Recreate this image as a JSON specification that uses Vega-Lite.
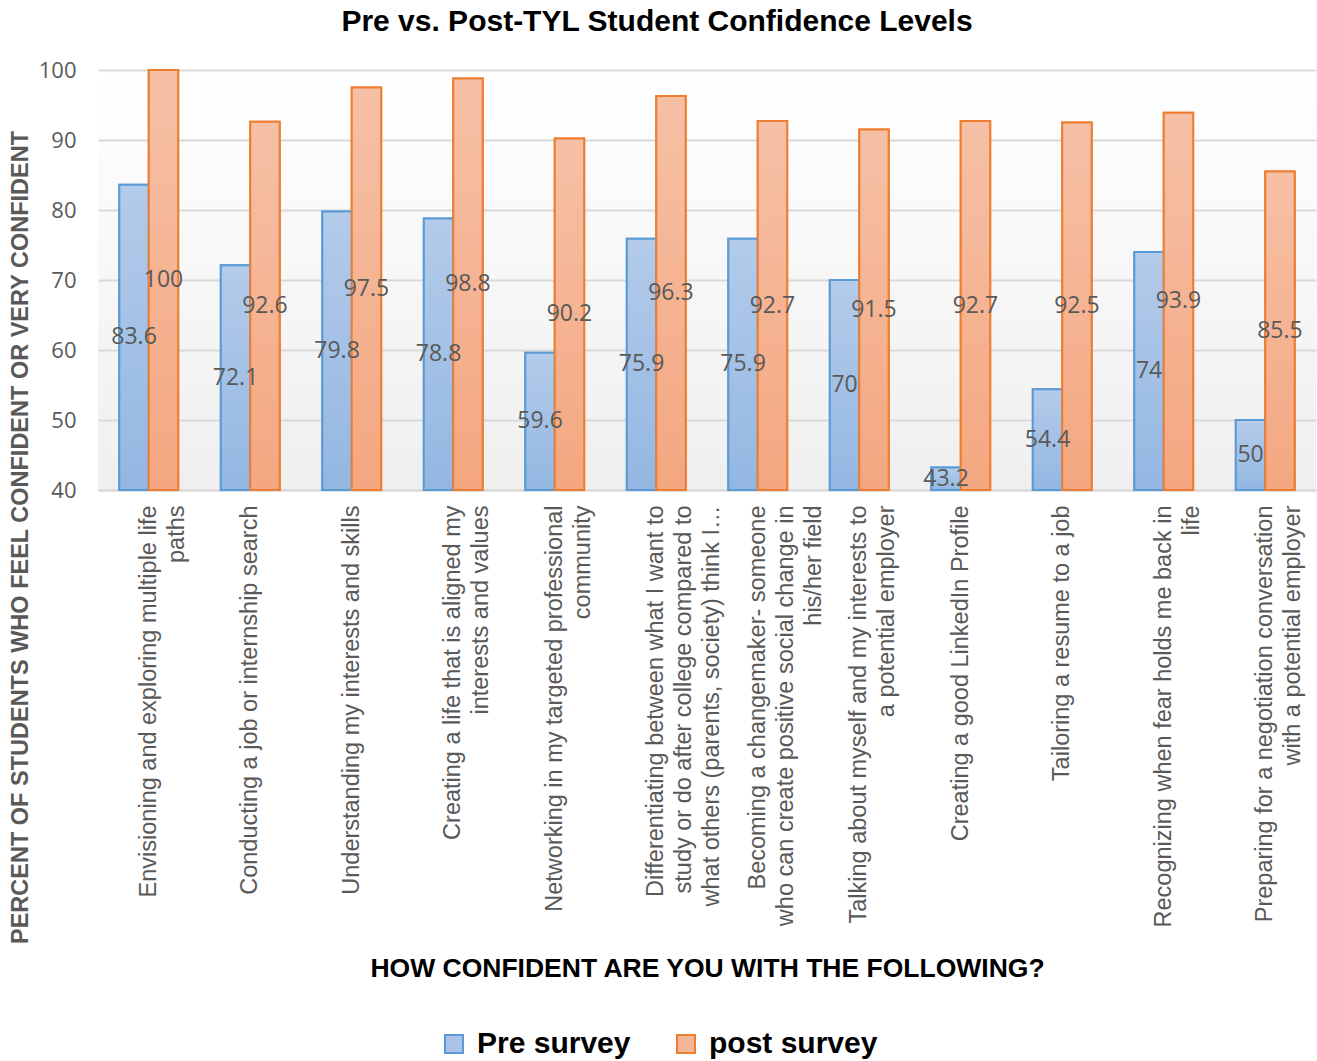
{
  "$schema": "https://vega.github.io/schema/vega-lite/v6.json",
  "width": 1218,
  "height": 420,
  "autosize": {"type": "none"},
  "padding": {"left": 98, "top": 70, "right": 1, "bottom": 571},
  "background": "#ffffff",
  "title": {
    "text": "Pre vs. Post-TYL Student Confidence Levels",
    "font": "Liberation Sans",
    "fontSize": 30,
    "fontWeight": "bold",
    "color": "#000000",
    "anchor": "middle",
    "frame": "group",
    "dx": -50,
    "offset": 22
  },
  "config": {
    "view": {
      "stroke": null,
      "fill": {
        "gradient": "linear",
        "x1": 0, "y1": 0, "x2": 0, "y2": 1,
        "stops": [
          {"offset": 0, "color": "#ffffff"},
          {"offset": 1, "color": "#efefef"}
        ]
      }
    }
  },
  "data": {
    "values": [
      {"skill": "Envisioning and exploring multiple life|paths", "series": "Pre survey", "value": 83.6},
      {"skill": "Envisioning and exploring multiple life|paths", "series": "post survey", "value": 100},
      {"skill": "Conducting a job or internship search", "series": "Pre survey", "value": 72.1},
      {"skill": "Conducting a job or internship search", "series": "post survey", "value": 92.6},
      {"skill": "Understanding my interests and skills", "series": "Pre survey", "value": 79.8},
      {"skill": "Understanding my interests and skills", "series": "post survey", "value": 97.5},
      {"skill": "Creating a life that is aligned my|interests and values", "series": "Pre survey", "value": 78.8},
      {"skill": "Creating a life that is aligned my|interests and values", "series": "post survey", "value": 98.8},
      {"skill": "Networking in my targeted professional|community", "series": "Pre survey", "value": 59.6},
      {"skill": "Networking in my targeted professional|community", "series": "post survey", "value": 90.2},
      {"skill": "Differentiating between what I want to|study or do after college compared to|what others (parents, society) think I…", "series": "Pre survey", "value": 75.9},
      {"skill": "Differentiating between what I want to|study or do after college compared to|what others (parents, society) think I…", "series": "post survey", "value": 96.3},
      {"skill": "Becoming a changemaker- someone|who can create positive social change in|his/her field", "series": "Pre survey", "value": 75.9},
      {"skill": "Becoming a changemaker- someone|who can create positive social change in|his/her field", "series": "post survey", "value": 92.7},
      {"skill": "Talking about myself and my interests to|a potential employer", "series": "Pre survey", "value": 70},
      {"skill": "Talking about myself and my interests to|a potential employer", "series": "post survey", "value": 91.5},
      {"skill": "Creating a good LinkedIn Profile", "series": "Pre survey", "value": 43.2},
      {"skill": "Creating a good LinkedIn Profile", "series": "post survey", "value": 92.7},
      {"skill": "Tailoring a resume to a job", "series": "Pre survey", "value": 54.4},
      {"skill": "Tailoring a resume to a job", "series": "post survey", "value": 92.5},
      {"skill": "Recognizing when fear holds me back in|life", "series": "Pre survey", "value": 74},
      {"skill": "Recognizing when fear holds me back in|life", "series": "post survey", "value": 93.9},
      {"skill": "Preparing for a negotiation conversation|with a potential employer", "series": "Pre survey", "value": 50},
      {"skill": "Preparing for a negotiation conversation|with a potential employer", "series": "post survey", "value": 85.5}
    ]
  },
  "encoding": {
    "x": {
      "field": "skill",
      "type": "nominal",
      "sort": null,
      "scale": {"paddingInner": 0.42, "paddingOuter": 0.21},
      "axis": {
        "title": "HOW CONFIDENT ARE YOU WITH THE FOLLOWING?",
        "titleFont": "Liberation Sans",
        "titleFontSize": 26.5,
        "titleFontWeight": "bold",
        "titleColor": "#000000",
        "titleY": 478,
        "titleBaseline": "middle",
        "labelExpr": "split(datum.label, '|')",
        "labelAngle": -90,
        "labelAlign": "right",
        "labelBaseline": "middle",
        "labelLineHeight": 28,
        "labelFont": "Liberation Sans",
        "labelFontSize": 23.5,
        "labelColor": "#595959",
        "labelPadding": 15,
        "labelLimit": 600,
        "labelOverlap": false,
        "ticks": false,
        "domainColor": "#d9d9d9",
        "domainWidth": 2
      }
    },
    "xOffset": {
      "field": "series",
      "type": "nominal",
      "scale": {"domain": ["Pre survey", "post survey"]}
    }
  },
  "layer": [
    {
      "mark": {"type": "bar", "strokeWidth": 2},
      "encoding": {
        "y": {
          "field": "value",
          "type": "quantitative",
          "scale": {"domain": [40, 100], "nice": false},
          "axis": {
            "title": "PERCENT OF STUDENTS WHO FEEL CONFIDENT OR VERY CONFIDENT",
            "titleFont": "Liberation Sans",
            "titleFontSize": 23.5,
            "titleFontWeight": "bold",
            "titleColor": "#595959",
            "titleX": -78,
            "titleY": 467,
            "titleAngle": -90,
            "titleAlign": "center",
            "titleBaseline": "middle",
            "values": [40, 50, 60, 70, 80, 90, 100],
            "labelFont": "Open Sans",
            "labelFontSize": 22,
            "labelColor": "#595959",
            "labelPadding": 22,
            "ticks": false,
            "domain": false,
            "gridColor": "#d9d9d9",
            "gridWidth": 2
          }
        },
        "y2": {"datum": 40},
        "fill": {
          "field": "series",
          "type": "nominal",
          "scale": {"domain": ["Pre survey", "post survey"], "range": ["#a9c4e8", "#f5b59a"]},
          "legend": {
            "title": null,
            "orient": "none",
            "direction": "horizontal",
            "legendX": 341,
            "legendY": 959,
            "symbolType": "square",
            "symbolSize": 324,
            "symbolStrokeWidth": 2,
            "labelFont": "Liberation Sans",
            "labelFontSize": 30,
            "labelFontWeight": "bold",
            "labelColor": "#000000",
            "labelOffset": 8,
            "labelLimit": 400,
            "columnPadding": 40
          }
        },
        "stroke": {
          "field": "series",
          "type": "nominal",
          "scale": {"domain": ["Pre survey", "post survey"], "range": ["#5b9bd5", "#ed7d31"]}
        }
      }
    },
    {
      "mark": {"type": "bar", "strokeWidth": 2},
      "encoding": {
        "y": {"field": "value", "type": "quantitative"},
        "y2": {"datum": 40},
        "fill": {
          "condition": {
            "test": "datum.series === 'Pre survey'",
            "value": {
              "gradient": "linear",
              "x1": 0, "y1": 0, "x2": 0, "y2": 1,
              "stops": [
                {"offset": 0, "color": "#b4cbea"},
                {"offset": 1, "color": "#93b7e2"}
              ]
            }
          },
          "value": {
            "gradient": "linear",
            "x1": 0, "y1": 0, "x2": 0, "y2": 1,
            "stops": [
              {"offset": 0, "color": "#f6c0a6"},
              {"offset": 1, "color": "#f4a780"}
            ]
          }
        },
        "stroke": {
          "condition": {"test": "datum.series === 'Pre survey'", "value": "#5b9bd5"},
          "value": "#ed7d31"
        }
      }
    },
    {
      "transform": [{"calculate": "(datum.value + 40) / 2", "as": "labelPos"}],
      "mark": {
        "type": "text",
        "font": "Open Sans",
        "fontSize": 23,
        "color": "#595959",
        "align": "center",
        "baseline": "middle"
      },
      "encoding": {
        "y": {"field": "labelPos", "type": "quantitative"},
        "text": {"field": "value", "type": "quantitative"}
      }
    }
  ]
}
